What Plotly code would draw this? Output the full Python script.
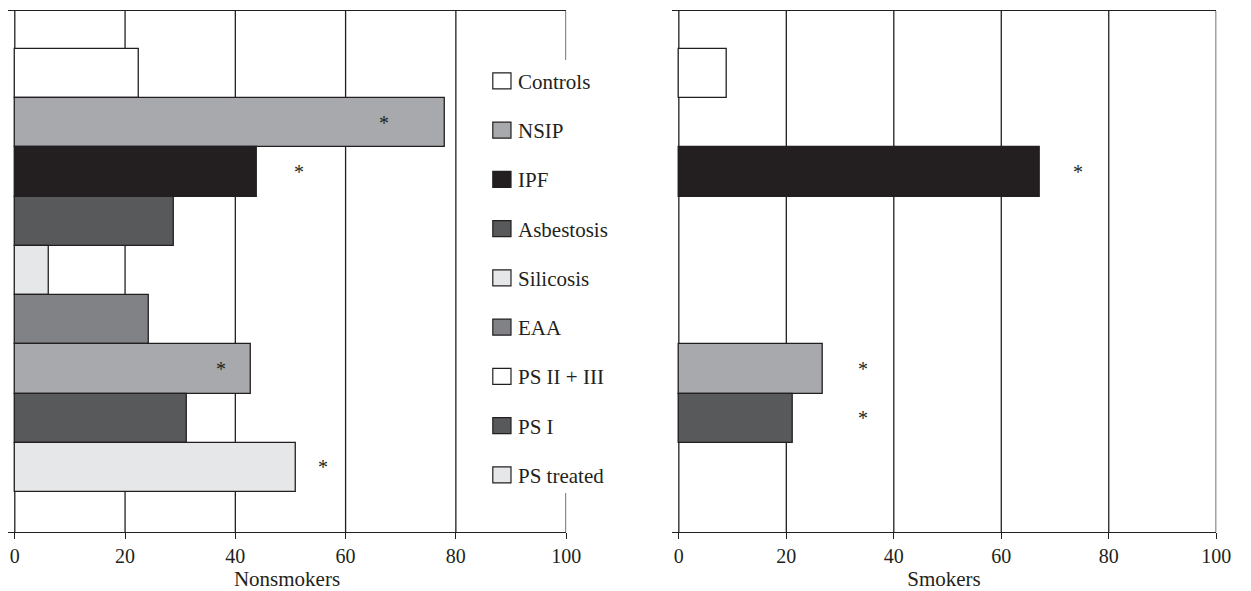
import plotly.graph_objects as go

# ---- data ----
categories = ["Controls", "NSIP", "IPF", "Asbestosis", "Silicosis", "EAA",
              "PS II + III", "PS I", "PS treated"]
nonsmokers = [22.6, 78.1, 44.0, 28.9, 6.2, 24.3, 42.8, 31.2, 51.0]
smokers = [9.0, None, 67.1, None, None, None, 26.8, 21.3, None]
bar_colors = ["#ffffff", "#a7a9ac", "#231f20", "#58595b", "#e6e7e8",
              "#808285", "#a7a9ac", "#58595b", "#e6e7e8"]
legend_colors = ["#ffffff", "#a7a9ac", "#231f20", "#58595b", "#e6e7e8",
                 "#808285", "#ffffff", "#58595b", "#e6e7e8"]
# significance markers (x position of the asterisk, category)
star_nonsmokers_x = [66.9, 51.5, 37.4, 55.9]
star_nonsmokers_cat = ["NSIP", "IPF", "PS II + III", "PS treated"]
star_smokers_x = [74.2, 34.2, 34.2]
star_smokers_cat = ["IPF", "PS II + III", "PS I"]
tick_vals = [0, 20, 40, 60, 80, 100]
grid_left = [0, 20, 40, 60, 80]
grid_right = [0, 20, 40, 60, 80, 100]

W, H = 1251, 591
INK = "#231f20"
FONT = "Liberation Serif, Times New Roman, DejaVu Serif, serif"

fig = go.Figure()
fig.add_trace(go.Bar(
    x=nonsmokers, y=categories, orientation="h",
    marker=dict(color=bar_colors, line=dict(color=INK, width=1.3)),
    xaxis="x", yaxis="y", showlegend=False, hoverinfo="x+y"))
fig.add_trace(go.Bar(
    x=smokers, y=categories, orientation="h",
    marker=dict(color=bar_colors, line=dict(color=INK, width=1.3)),
    xaxis="x2", yaxis="y2", showlegend=False, hoverinfo="x+y"))

shapes = []
for v in grid_left:
    shapes.append(dict(type="line", xref="x", yref="y domain", x0=v, x1=v, y0=0, y1=1,
                       line=dict(color=INK, width=1.3), layer="below"))
for v in grid_right:
    shapes.append(dict(type="line", xref="x2", yref="y2 domain", x0=v, x1=v, y0=0, y1=1,
                       line=dict(color=INK, width=1.3), layer="below"))
# broken right border of the left panel (interrupted by legend)
shapes.append(dict(type="line", xref="x", yref="y domain", x0=100, x1=100, y0=0.906, y1=1,
                   line=dict(color=INK, width=1.3), layer="below"))
shapes.append(dict(type="line", xref="x", yref="y domain", x0=100, x1=100, y0=0, y1=0.075,
                   line=dict(color=INK, width=1.3), layer="below"))

annotations = []
# legend drawn inside the left panel
for i, (cat, col) in enumerate(zip(categories, legend_colors)):
    shapes.append(dict(type="rect", xref="x", yref="y", x0=86.7, x1=90.0,
                       y0=i - 0.013, y1=i + 0.313,
                       fillcolor=col, line=dict(color=INK, width=1.2)))
    annotations.append(dict(x=90.9, y=i + 0.15, xref="x", yref="y", text=cat,
                            showarrow=False, xanchor="left", yanchor="middle", yshift=-1,
                            font=dict(family=FONT, size=21, color=INK)))
for sx, sc in zip(star_nonsmokers_x, star_nonsmokers_cat):
    annotations.append(dict(x=sx, y=sc, xref="x", yref="y", text="*", showarrow=False,
                            xanchor="center", yanchor="middle",
                            font=dict(family=FONT, size=20, color=INK)))
for sx, sc in zip(star_smokers_x, star_smokers_cat):
    annotations.append(dict(x=sx, y=sc, xref="x2", yref="y2", text="*", showarrow=False,
                            xanchor="center", yanchor="middle",
                            font=dict(family=FONT, size=20, color=INK)))

xcommon = dict(tickvals=tick_vals, ticks="outside", ticklen=6, tickcolor=INK, tickwidth=1.3,
               showline=True, linecolor=INK, linewidth=1.3, mirror=True,
               showgrid=False, zeroline=False,
               tickfont=dict(family=FONT, size=20, color=INK))
ycommon = dict(type="category", categoryorder="array", categoryarray=categories,
               range=[9.31, -1.27], showticklabels=False, ticks="", showgrid=False,
               showline=False, zeroline=False)

fig.update_layout(
    width=W, height=H,
    margin=dict(l=0, r=0, t=11, b=59),
    paper_bgcolor="white", plot_bgcolor="white",
    bargap=0,
    font=dict(family=FONT, color=INK),
    xaxis=dict(domain=[8 / W, 573 / W], range=[-1.25, 100],
               title=dict(text="Nonsmokers", font=dict(family=FONT, size=21, color=INK), standoff=6),
               **xcommon),
    xaxis2=dict(domain=[680 / W, 1231 / W], range=[-1.3, 100], anchor="y2",
                title=dict(text="Smokers", font=dict(family=FONT, size=21, color=INK), standoff=6),
                **xcommon),
    yaxis=dict(anchor="x", **ycommon),
    yaxis2=dict(anchor="x2", **ycommon),
    shapes=shapes,
    annotations=annotations,
)

fig.write_html(
    "out.html",
    config={"displayModeBar": False},
    post_script=(
        "document.documentElement.style.margin='0px';"
        "document.documentElement.style.overflow='hidden';"
        "document.body.style.margin='0px';"
        "document.body.style.overflow='hidden';"
    ),
)
